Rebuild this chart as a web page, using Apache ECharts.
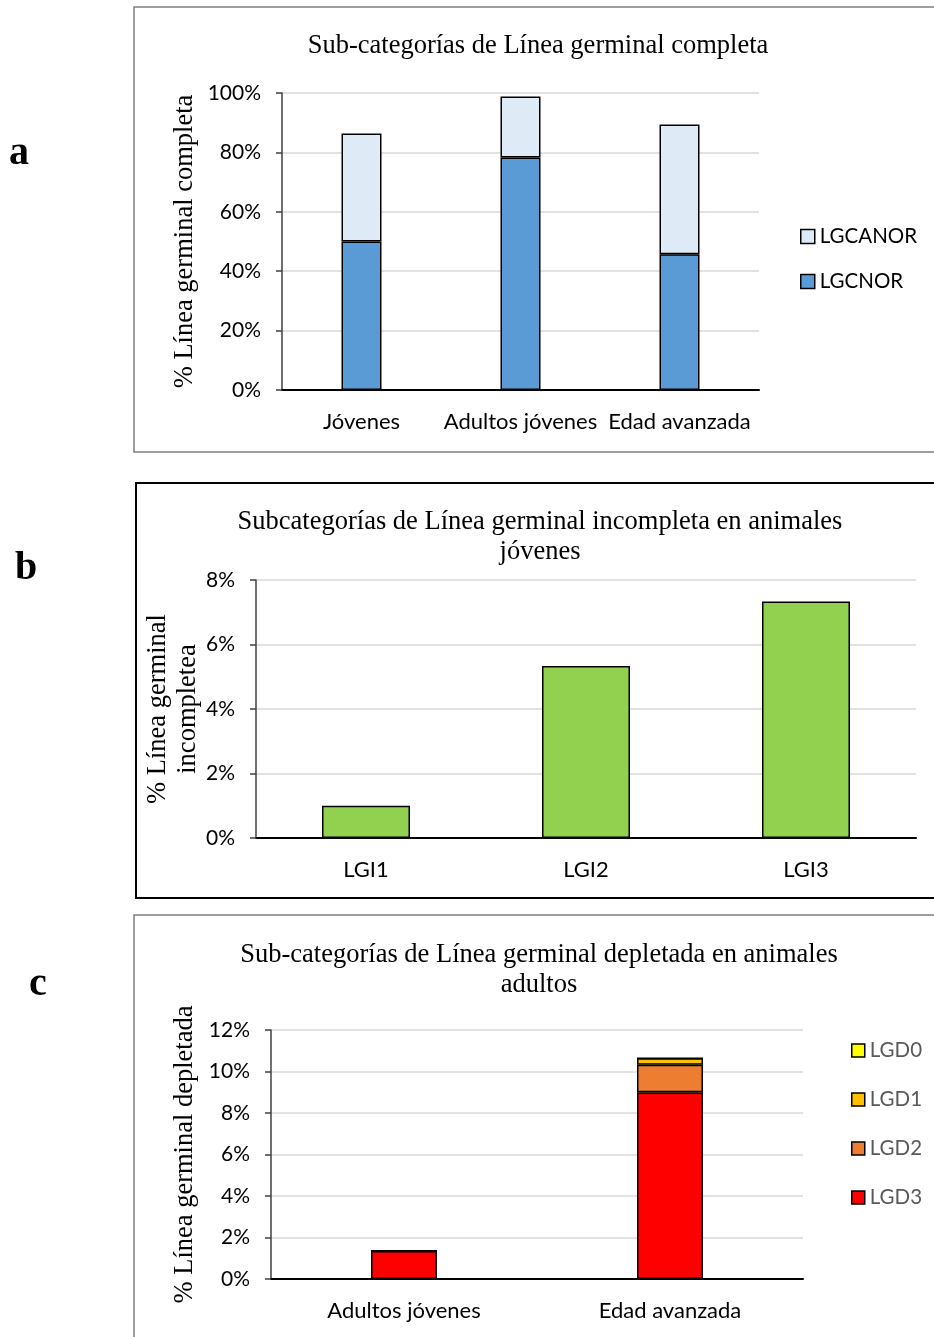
<!DOCTYPE html>
<html>
<head>
<meta charset="utf-8">
<script src="https://cdn.jsdelivr.net/npm/echarts@6/dist/echarts.min.js"></script>
<style>
	html, body { margin: 0; padding: 0; background: #fff; }
	#main { width: 934px; height: 1337px; }
</style>
</head>
<body>
<div id="main"></div>
<script>
// datos del panel a
var catA = ['Jóvenes', 'Adultos jóvenes', 'Edad avanzada'];
var lgcnor = [50.0, 78.3, 45.7];
var lgcanor = [36.4, 20.5, 43.7];
var ticksA = [0, 20, 40, 60, 80, 100];

// datos del panel b
var catB = ['LGI1', 'LGI2', 'LGI3'];
var lgi = [1.0, 5.33, 7.33];
var ticksB = [0, 2, 4, 6, 8];

// datos del panel c
var catC = ['Adultos jóvenes', 'Edad avanzada'];
var lgd3 = [1.35, 9.0];
var lgd2 = [0, 1.32];
var lgd1 = [0, 0.32];
var lgd0 = [0, 0];
var ticksC = [0, 2, 4, 6, 8, 10, 12];

var serif = '"Liberation Serif", "DejaVu Serif", serif';
var sans = 'Lato, "Open Sans", sans-serif';

var myChart = echarts.init(document.getElementById('main'));

function yAx(idx, ticks, name, gap) {
	return {
		gridIndex : idx,
		type : 'value',
		min : ticks[0],
		max : ticks[ticks.length - 1],
		interval : ticks[1] - ticks[0],
		name : name,
		nameLocation : 'middle',
		nameRotate : 90,
		nameGap : gap,
		nameMoveOverlap : false,
		nameTextStyle : { fontFamily : serif, fontSize : 26.5, color : '#000', lineHeight : 30 },
		axisLine : { show : true, lineStyle : { color : '#404040', width : 1.5 } },
		axisTick : { show : true, length : 6, lineStyle : { color : '#404040', width : 1.5 } },
		axisLabel : { formatter : '{value}%', fontFamily : sans, fontSize : 21, color : '#000', margin : 21 },
		splitLine : { show : true, lineStyle : { color : '#d9d9d9', width : 1.5 } }
	};
}

function xAx(idx, cats) {
	return {
		gridIndex : idx,
		type : 'category',
		data : cats,
		axisLine : { show : true, lineStyle : { color : '#000', width : 2 } },
		axisTick : { show : false },
		axisLabel : { interval : 0, fontFamily : sans, fontSize : 22, color : '#000', margin : 21 }
	};
}

function barS(name, idx, data, color, stack, width) {
	return {
		name : name,
		type : 'bar',
		xAxisIndex : idx,
		yAxisIndex : idx,
		stack : stack,
		barWidth : width,
		data : data,
		itemStyle : { color : color, borderColor : '#000', borderWidth : 1.5 },
		emphasis : { disabled : true }
	};
}

var titleStyle = { fontFamily : serif, fontSize : 26.5, fontWeight : 'normal', color : '#000', lineHeight : 30 };

var option = {
	animation : false,
	backgroundColor : '#fff',
	title : [ {
		text : 'Sub-categorías de Línea germinal completa',
		left : 538, top : 31, padding : 0, textAlign : 'center',
		textStyle : titleStyle
	}, {
		text : 'Subcategorías de Línea germinal incompleta en animales\njóvenes',
		left : 540, top : 507, padding : 0, textAlign : 'center',
		textStyle : titleStyle
	}, {
		text : 'Sub-categorías de Línea germinal depletada en animales\nadultos',
		left : 539, top : 940, padding : 0, textAlign : 'center',
		textStyle : titleStyle
	} ],
	legend : [ {
		orient : 'vertical',
		left : 800, top : 226, padding : 0,
		itemWidth : 14, itemHeight : 14, itemGap : 24,
		icon : 'rect',
		data : [ 'LGCANOR', 'LGCNOR' ],
		textStyle : { fontFamily : sans, fontSize : 20.5, color : '#000', padding : [0, 0, 0, 0] },
		itemStyle : { borderColor : '#000', borderWidth : 1.5 }
	}, {
		orient : 'vertical',
		left : 851, top : 1040, padding : 0,
		itemWidth : 13, itemHeight : 13, itemGap : 28,
		icon : 'rect',
		data : [ 'LGD0', 'LGD1', 'LGD2', 'LGD3' ],
		textStyle : { fontFamily : sans, fontSize : 20.5, color : '#595959', padding : [0, 0, 0, 0] },
		itemStyle : { borderColor : '#000', borderWidth : 1.5 }
	} ],
	grid : [
		{ left : 282, top : 93, width : 477, height : 297 },
		{ left : 256, top : 580, width : 660, height : 258 },
		{ left : 271, top : 1030, width : 532, height : 249 }
	],
	xAxis : [ xAx(0, catA), xAx(1, catB), xAx(2, catC) ],
	yAxis : [
		yAx(0, ticksA, '% Línea germinal completa', 82),
		yAx(1, ticksB, '% Línea germinal\nincompletea', 53),
		yAx(2, ticksC, '% Línea germinal depletada', 71)
	],
	series : [
		barS('LGCNOR', 0, lgcnor, '#5b9bd5', 'a', 40),
		barS('LGCANOR', 0, lgcanor, '#deebf7', 'a', 40),
		barS('LGI', 1, lgi, '#92d050', 'b', 88),
		barS('LGD3', 2, lgd3, '#ff0000', 'c', 66),
		barS('LGD2', 2, lgd2, '#ed7d31', 'c', 66),
		barS('LGD1', 2, lgd1, '#ffc000', 'c', 66),
		barS('LGD0', 2, lgd0, '#ffff00', 'c', 66)
	],
	graphic : [
		// marcos de los paneles
		{ type : 'rect', shape : { x : 134, y : 7, width : 810, height : 445 },
			style : { fill : null, stroke : '#7f7f7f', lineWidth : 1.5 }, z : -1 },
		{ type : 'rect', shape : { x : 136, y : 483, width : 810, height : 415 },
			style : { fill : null, stroke : '#000', lineWidth : 2 }, z : -1 },
		{ type : 'rect', shape : { x : 134, y : 915, width : 810, height : 440 },
			style : { fill : null, stroke : '#7f7f7f', lineWidth : 1.5 }, z : -1 },
		// letras
		{ type : 'text', left : 9, top : 134, style : { text : 'a', font : 'bold 40px ' + serif, fill : '#000' } },
		{ type : 'text', left : 15, top : 549, style : { text : 'b', font : 'bold 40px ' + serif, fill : '#000' } },
		{ type : 'text', left : 29, top : 965, style : { text : 'c', font : 'bold 40px ' + serif, fill : '#000' } }
	]
};

myChart.setOption(option);
</script>
</body>
</html>
